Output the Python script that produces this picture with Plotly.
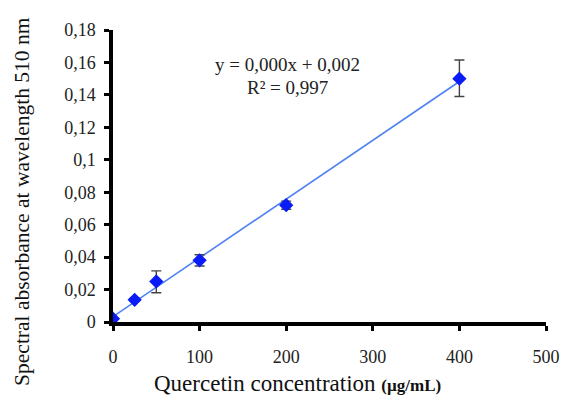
import numpy as np
import plotly.graph_objects as go

# Data
concentration = [0, 25, 50, 100, 200, 400]          # µg/mL
absorbance = [0.002, 0.0137, 0.025, 0.038, 0.072, 0.150]
err_plus = [0.0005, 0.001, 0.0065, 0.0035, 0.0025, 0.0115]
err_minus = [0.0005, 0.001, 0.007, 0.0035, 0.0025, 0.0110]

y_tickvals = [0, 0.02, 0.04, 0.06, 0.08, 0.1, 0.12, 0.14, 0.16, 0.18]
y_ticktext = ["0", "0,02", "0,04", "0,06", "0,08", "0,1", "0,12", "0,14", "0,16", "0,18"]
x_tickvals = [0, 100, 200, 300, 400, 500]
x_ticktext = ["0", "100", "200", "300", "400", "500"]

equation_line1 = "y = 0,000x + 0,002"
equation_line2 = "R² = 0,997"
x_title = "Quercetin concentration"
x_unit = "(µg/mL)"
y_title = "Spectral absorbance at wavelength 510 nm"

# Linear trendline computed from the data
slope, intercept = np.polyfit(concentration, absorbance, 1)
fit_x = [concentration[0], concentration[-1]]
fit_y = [slope * v + intercept for v in fit_x]

FONT = "Liberation Serif, Times New Roman, serif"

fig = go.Figure()
fig.add_trace(go.Scatter(
    x=fit_x, y=fit_y, mode="lines",
    line=dict(color="#4f83f2", width=1.6),
    hoverinfo="skip", showlegend=False,
))
fig.add_trace(go.Scatter(
    x=concentration, y=absorbance, mode="markers",
    marker=dict(symbol="diamond", size=11, color="#0a1cf5"),
    error_y=dict(type="data", array=err_plus, arrayminus=err_minus,
                 color="#444444", thickness=1.4, width=5),
    showlegend=False,
))

fig.add_annotation(
    x=202, y=0.1585, xref="x", yref="y", text=equation_line1,
    showarrow=False, xanchor="center", yanchor="middle",
    font=dict(family=FONT, size=19, color="#222222"),
)
fig.add_annotation(
    x=202, y=0.1445, xref="x", yref="y", text=equation_line2,
    showarrow=False, xanchor="center", yanchor="middle",
    font=dict(family=FONT, size=19, color="#222222"),
)
# x-axis title with the unit in a smaller bold face
fig.add_annotation(
    x=0.425, y=-0.21, xref="paper", yref="paper",
    text=x_title + " <b><span style='font-size:17px'>" + x_unit + "</span></b>",
    showarrow=False, xanchor="center", yanchor="middle",
    font=dict(family=FONT, size=23, color="#111111"),
)
# y-axis title (rotated), placed like in the reference
fig.add_annotation(
    x=-0.212, y=0.412, xref="paper", yref="paper",
    text=y_title, textangle=-90,
    showarrow=False, xanchor="center", yanchor="middle",
    font=dict(family=FONT, size=21.5, color="#111111"),
)

fig.update_layout(
    width=566, height=393,
    margin=dict(l=105, r=28, t=22, b=79, autoexpand=False),
    paper_bgcolor="white", plot_bgcolor="white",
    font=dict(family=FONT, size=18, color="#222222"),
    xaxis=dict(
        range=[0, 500], tickvals=x_tickvals, ticktext=x_ticktext,
        showgrid=False, zeroline=False, showline=True,
        linecolor="black", linewidth=3.5,
        ticks="outside", ticklen=5, tickwidth=3, tickcolor="black",
        ticklabelstandoff=11, automargin=False,
    ),
    yaxis=dict(
        range=[0, 0.18], tickvals=y_tickvals, ticktext=y_ticktext,
        showgrid=False, zeroline=False, showline=True,
        linecolor="black", linewidth=3.5,
        ticks="outside", ticklen=5, tickwidth=3, tickcolor="black",
        ticklabelstandoff=5, automargin=False,
    ),
)

fig.write_html("out.html")
